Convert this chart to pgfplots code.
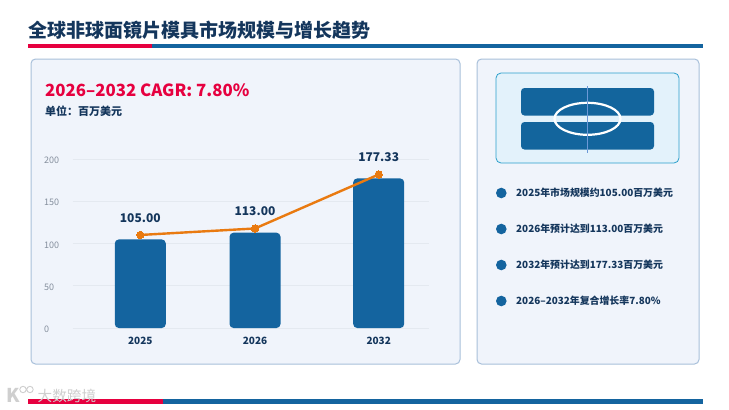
\documentclass[border=0pt]{standalone}
\usepackage{fontspec}
\setmainfont{Noto Sans CJK SC}
\usepackage{pgfplots}
\pgfplotsset{compat=1.18}
\definecolor{navy}{HTML}{14365C}
\definecolor{redc}{HTML}{E6003F}
\definecolor{bluec}{HTML}{14649F}
\definecolor{orangec}{HTML}{E97A10}
\definecolor{panel}{HTML}{F0F4FB}
\definecolor{panelb}{HTML}{A8C0DA}
\definecolor{inner}{HTML}{E3F2FB}
\definecolor{innerb}{HTML}{2A9FCB}
\definecolor{gridc}{HTML}{E4E9F0}
\definecolor{tickc}{HTML}{858F9D}
\definecolor{wm}{HTML}{CFCFCF}
\newcommand{\fs}[1]{\fontsize{#1}{#1}\selectfont}
\begin{document}
\begin{tikzpicture}
\begin{scope}[x=1pt,y=-1pt]
\path[use as bounding box,fill=white] (0,0) rectangle (729,410);
% header
\node[anchor=base west,inner sep=0,text=navy] at (28.5,37) {\fs{19}\bfseries 全球非球面镜片模具市场规模与增长趋势};
\fill[bluec] (152,43.5) rectangle (703,47.5);
\fill[redc] (28,43.5) rectangle (152,47.5);
% footer
\fill[bluec] (163,399) rectangle (703,404);
\fill[redc] (28,399) rectangle (163,404);
% panels
\draw[panelb,fill=panel,line width=1pt,rounded corners=4.5pt] (31,59) rectangle (460,364);
\draw[panelb,fill=panel,line width=1pt,rounded corners=4.5pt] (477,59) rectangle (699,364);
% left header
\node[anchor=base west,inner sep=0,text=redc] at (45,96.5) {\fs{16.8}\bfseries 2026–2032 CAGR: 7.80\%};
\node[anchor=base west,inner sep=0,text=navy] at (45,115) {\fs{11}\bfseries 单位：百万美元};
% icon
\draw[innerb,fill=inner,line width=0.8pt,rounded corners=5pt] (496,73) rectangle (679,163);
\fill[bluec!95!teal,rounded corners=3.5pt] (521,88) rectangle (654,115.5);
\fill[bluec!95!teal,rounded corners=3.5pt] (521,122) rectangle (654,149.5);
\draw[white,line width=2.2pt] (587.5,118.8) ellipse [x radius=33,y radius=16];
\draw[cyan!50!blue!60,line width=0.9pt] (587.5,86) -- (587.5,152.5);
% bullets
\foreach \yy/\tx in {193/2025年市场规模约105.00百万美元,229/2026年预计达到113.00百万美元,265/2032年预计达到177.33百万美元,301/2026–2032年复合增长率7.80\%}{
  \fill[bluec] (501.3,\yy) circle [radius=5.3];
  \node[anchor=west,inner sep=0,text=navy] at (516,\yy) {\fs{9.9}\bfseries \tx};
}
% watermark
\node[anchor=base west,inner sep=0,text=wm] at (37.5,401) {\fs{14.6}大数跨境};
\node[anchor=base west,inner sep=0,text=wm] at (6.5,402) {\fs{19}\bfseries K};
\draw[wm,line width=.9pt] (23,389.5) circle [radius=3.2] (30,389.5) circle [radius=3.2];
\end{scope}
% chart
\begin{axis}[
  at={(73pt,-328pt)},anchor=south west,
  scale only axis,width=356pt,height=168.7pt,
  xmin=73,xmax=429,ymin=0,ymax=200,
  clip=false,
  axis line style={draw=none},
  major tick length=0pt,
  ymajorgrids,
  grid style={gridc,line width=1pt},
  ytick={0,50,100,150,200},
  xtick={140.3,255,378.7},
  xticklabels={2025,2026,2032},
  /pgf/number format/assume math mode=true,
  yticklabel style={anchor=west,xshift=-29pt,yshift=-1.3pt,inner sep=0pt,text=tickc,font=\fs{9}},
  xticklabel style={anchor=center,yshift=-13pt,inner sep=0pt,text=navy,font=\fs{10}\bfseries},
]
\addplot[ybar,bar width=51pt,bar shift=0pt,draw=none,fill=bluec,rounded corners=4pt]
  coordinates {(140.3,105) (255,113) (378.7,177.33)};
\addplot[orangec,line width=2.4pt,mark=*,mark size=3.7pt,mark options={fill=orangec,draw=orangec,line width=0pt},
  point meta=explicit,
  nodes near coords,
  every node near coord/.append style={anchor=center,yshift=17pt,inner sep=0pt,text=navy,font=\fs{12}\bfseries,
    /pgf/number format/fixed,/pgf/number format/fixed zerofill,/pgf/number format/precision=2,/pgf/number format/assume math mode=true}]
  coordinates {(140.3,110.3)[105] (255,118)[113] (378.7,182)[177.33]};
\end{axis}
\end{tikzpicture}
\end{document}
